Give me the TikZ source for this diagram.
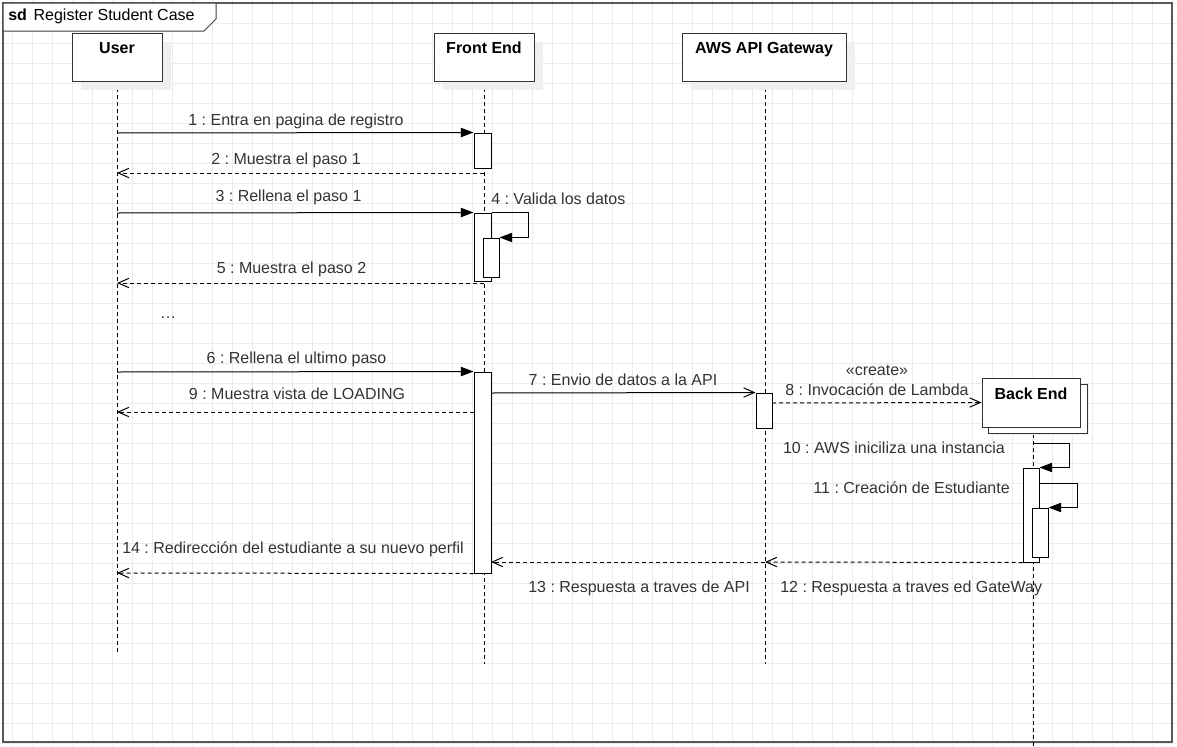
\documentclass[tikz,border=0pt]{standalone}
\usepackage{fontspec}
\setmainfont{Liberation Sans}
\usetikzlibrary{arrows.meta,fit}
\frenchspacing
\definecolor{gridc}{HTML}{EBEBEB}
\definecolor{framec}{HTML}{595959}
\definecolor{shadowc}{HTML}{EFEFEF}
\definecolor{textc}{HTML}{333333}
\tikzset{
  gridline/.style={draw=gridc, line width=0.75pt},
  lifeline/.style={draw=black, line width=0.75pt, dash pattern=on 3pt off 2.25pt},
  syncmsg/.style={draw=black, line width=0.75pt, -{Triangle[length=9.5pt,width=7pt]}},
  callmsg/.style={draw=black, line width=0.75pt, -{Straight Barb[length=8pt,width=7pt]}},
  retmsg/.style={draw=black, line width=0.75pt, dash pattern=on 3pt off 2.25pt, -{Straight Barb[length=8pt,width=7pt]}},
  bar/.style={draw=black, fill=white, line width=0.75pt, inner sep=0pt},
  headbox/.style={draw=black!80, fill=white, line width=0.75pt, inner sep=0pt},
  headshadow/.style={fill=shadowc, draw=none},
  headtxt/.style={anchor=base, inner sep=0pt, font=\bfseries\fontsize{12}{14}\selectfont},
  lbl/.style={anchor=base, inner sep=0pt, text=textc, font=\frenchspacing\fontsize{12}{14}\selectfont},
}
\begin{document}
\begin{tikzpicture}[x=0.75pt,y=-0.75pt]
\useasboundingbox (0,0) rectangle (1177,746);
\fill[white] (0,0) rectangle (1177,746);
% grid
\foreach \gx in {12,32,...,1172} \draw[gridline] (\gx,0) -- (\gx,746);
\foreach \gy in {3,23,...,743} \draw[gridline] (0,\gy) -- (1177,\gy);
% frame
\draw[draw=framec, line width=1.5pt] (3,3) rectangle (1172,742);
\filldraw[fill=white, draw=black!75, line width=0.75pt] (3,3) -- (216,3) -- (216,19) -- (204,31) -- (3,31) -- cycle;
\node[anchor=base west, inner sep=0pt, font=\fontsize{12}{14}\selectfont] (title) at (8,20) {\textbf{sd}\hspace{5pt}Register Student Case};

% lifelines
\draw[lifeline] (117,81) -- (117,655);
\draw[lifeline] (484,81) -- (484,664);
\draw[lifeline] (765,81) -- (765,664);
\draw[lifeline] (1033,427) -- (1033,746);

% header shadows
\fill[headshadow] (81,42) rectangle (171,90);
\fill[headshadow] (443,42) rectangle (543,90);
\fill[headshadow] (691,42) rectangle (855,90);
\fill[headshadow] (990,386) rectangle (1089,435);

% headers
\node[headbox, fit={(72,33) (162,81)}] (user) {};
\node[headtxt] (usertxt) at (117,53) {User};
\node[headbox, fit={(434,33) (534,81)}] (fe) {};
\node[headtxt] (fetxt) at (484,53) {Front End};
\node[headbox, fit={(682,33) (846,81)}] (api) {};
\node[headtxt] (apitxt) at (764,53) {AWS API Gateway};
\node[headbox, fit={(988,384) (1087,433)}] (beback) {};
\node[headbox, fit={(982,378) (1080,427)}] (be) {};
\node[headtxt] (betxt) at (1031,399) {Back End};

% activation bars
\node[bar, fit={(474,133) (491,168)}] (fe1) {};
\node[bar, fit={(474,213) (491,281)}] (fe2) {};
\node[bar, fit={(483,238) (499,277)}] (fe3) {};
\node[bar, fit={(474,372) (491,573)}] (fe4) {};
\node[bar, fit={(756,393) (772,428)}] (api1) {};
\node[bar, fit={(1023,468) (1039,562)}] (be1) {};
\node[bar, fit={(1032,508) (1048,557)}] (be2) {};

% coordinates on lifelines
\coordinate (u1) at (117,133);
\coordinate (u2) at (117,173);
\coordinate (f2) at (484,173);
\coordinate (u3) at (117,213);
\coordinate (u5) at (117,283);
\coordinate (f5) at (484,283);
\coordinate (u6) at (117,372);
\coordinate (f7) at (491,393);
\coordinate (a8) at (772,403);
\coordinate (f9) at (474,412);
\coordinate (u9) at (117,412);
\coordinate (b10) at (1033,443);
\coordinate (b11) at (1039,483);
\coordinate (a12) at (765,562);
\coordinate (f13) at (491,562);
\coordinate (u14) at (117,573);

% messages
\draw[syncmsg] (u1) -- (fe1.north west);
\draw[retmsg] (f2) -- (u2);
\draw[syncmsg] (u3) -- (fe2.north west);
\draw[syncmsg] (fe2.north east) -- ++(37,0) |- (fe3.north east);
\draw[retmsg] (f5) -- (u5);
\draw[syncmsg] (u6) -- (fe4.north west);
\draw[callmsg] (f7) -- (api1.north west);
\draw[retmsg] (a8) -- (be.west);
\draw[retmsg] (f9) -- (u9);
\draw[syncmsg] (b10) -- ++(36,0) |- (be1.north east);
\draw[syncmsg] (b11) -- ++(38,0) |- (be2.north east);
\draw[retmsg] (be1.south west) -- (a12);
\draw[retmsg] (a12) -- (f13);
\draw[retmsg] (fe4.south west) -- (u14);

% labels
\node[lbl] (l1) at (296,125) {1 : Entra en pagina de registro};
\node[lbl] (l2) at (286,164) {2 : Muestra el paso 1};
\node[lbl] (l3) at (288.5,201) {3 : Rellena el paso 1};
\node[lbl, anchor=base west] (l4) at (491,204) {4 : Valida los datos};
\node[lbl] (l5) at (291.5,273) {5 : Muestra el paso 2};
\node[lbl] (ldots) at (168,318) {…};
\node[lbl] (l6) at (296.5,363) {6 : Rellena el ultimo paso};
\node[lbl] (l7) at (623,385) {7 : Envio de datos a la API};
\node[lbl] (l9) at (297,399) {9 : Muestra vista de LOADING};
\node[lbl] (lcreate) at (877,375) {«create»};
\node[lbl] (l8) at (877,395) {8 : Invocación de Lambda};
\node[lbl, anchor=base east] (l10) at (1005,453) {10 : AWS iniciliza una instancia};
\node[lbl, anchor=base east] (l11) at (1010,493) {11 : Creación de Estudiante};
\node[lbl, anchor=base west] (l12) at (780,592) {12 : Respuesta a traves ed GateWay};
\node[lbl] (l13) at (639,592) {13 : Respuesta a traves de API};
\node[lbl, anchor=base west] (l14) at (122,553) {14 : Redirección del estudiante a su nuevo perfil};
\end{tikzpicture}
\end{document}
